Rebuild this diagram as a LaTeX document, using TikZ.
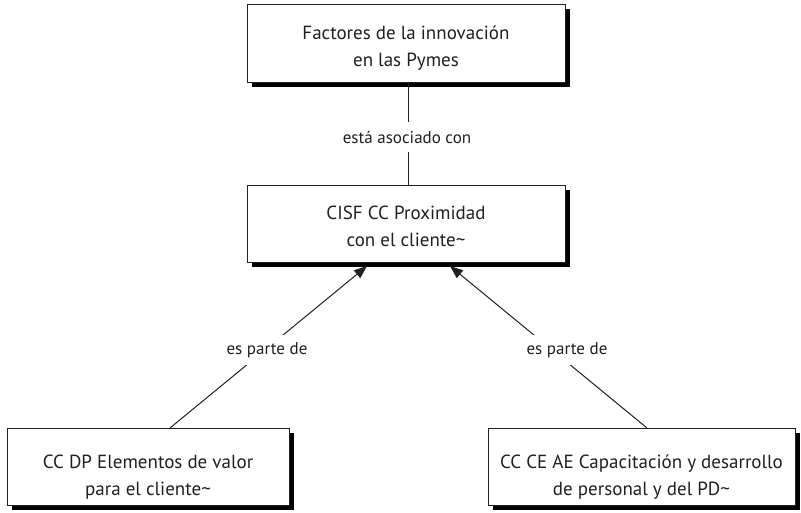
\documentclass[tikz,border=0pt]{standalone}
\usepackage{fontspec}
\setmainfont{PT Sans}
\usetikzlibrary{shadows,arrows.meta}
\definecolor{ink}{HTML}{231F20}
\begin{document}
\begin{tikzpicture}[x=1pt,y=-1pt,
  box/.style={draw=ink,line width=1pt,fill=white,align=center,text=ink,
    font=\fontsize{19}{27}\selectfont,
    drop shadow={shadow xshift=4.5pt,shadow yshift=-4.5pt,fill=black,opacity=1}},
  lbl/.style={fill=white,text=ink,font=\fontsize{17}{20}\selectfont,inner xsep=3pt,inner ysep=7pt},
  conn/.style={line width=1pt,draw=ink}]
\useasboundingbox (0,0) rectangle (801,512);
\node[box,minimum width=318pt,minimum height=78pt] (top) at (406,43) {\rule{0pt}{24pt}Factores de la innovación\\en las Pymes};
\node[box,minimum width=318pt,minimum height=77pt] (mid) at (406,223.5) {\rule{0pt}{20pt}CISF CC Proximidad\\con el cliente\textasciitilde};
\node[box,minimum width=282pt,minimum height=77pt] (bl) at (148,466.5) {\rule{0pt}{35pt}CC DP Elementos de valor\\para el cliente\textasciitilde};
\node[box,minimum width=307pt,minimum height=77pt] (br) at (641.5,466.5) {\rule{0pt}{35pt}CC CE AE Capacitación y desarrollo\\de personal y del PD\textasciitilde};
\coordinate (blt) at (170,428);
\coordinate (brt) at (647,428);
\coordinate (ml) at (367,266);
\coordinate (mr) at (450,266);
\draw[conn] (top.south -| 408,0) -- (mid.north -| 408,0);
\draw[conn,-{Triangle[length=13pt,width=10pt]}] (blt) -- (ml);
\draw[conn,-{Triangle[length=13pt,width=10pt]}] (brt) -- (mr);
\node[lbl,inner ysep=9pt] (l1) at (407,137) {está asociado con};
\node[lbl] (l2) at (267,350) {es parte de};
\node[lbl] (l3) at (567,350) {es parte de};
\end{tikzpicture}
\end{document}
